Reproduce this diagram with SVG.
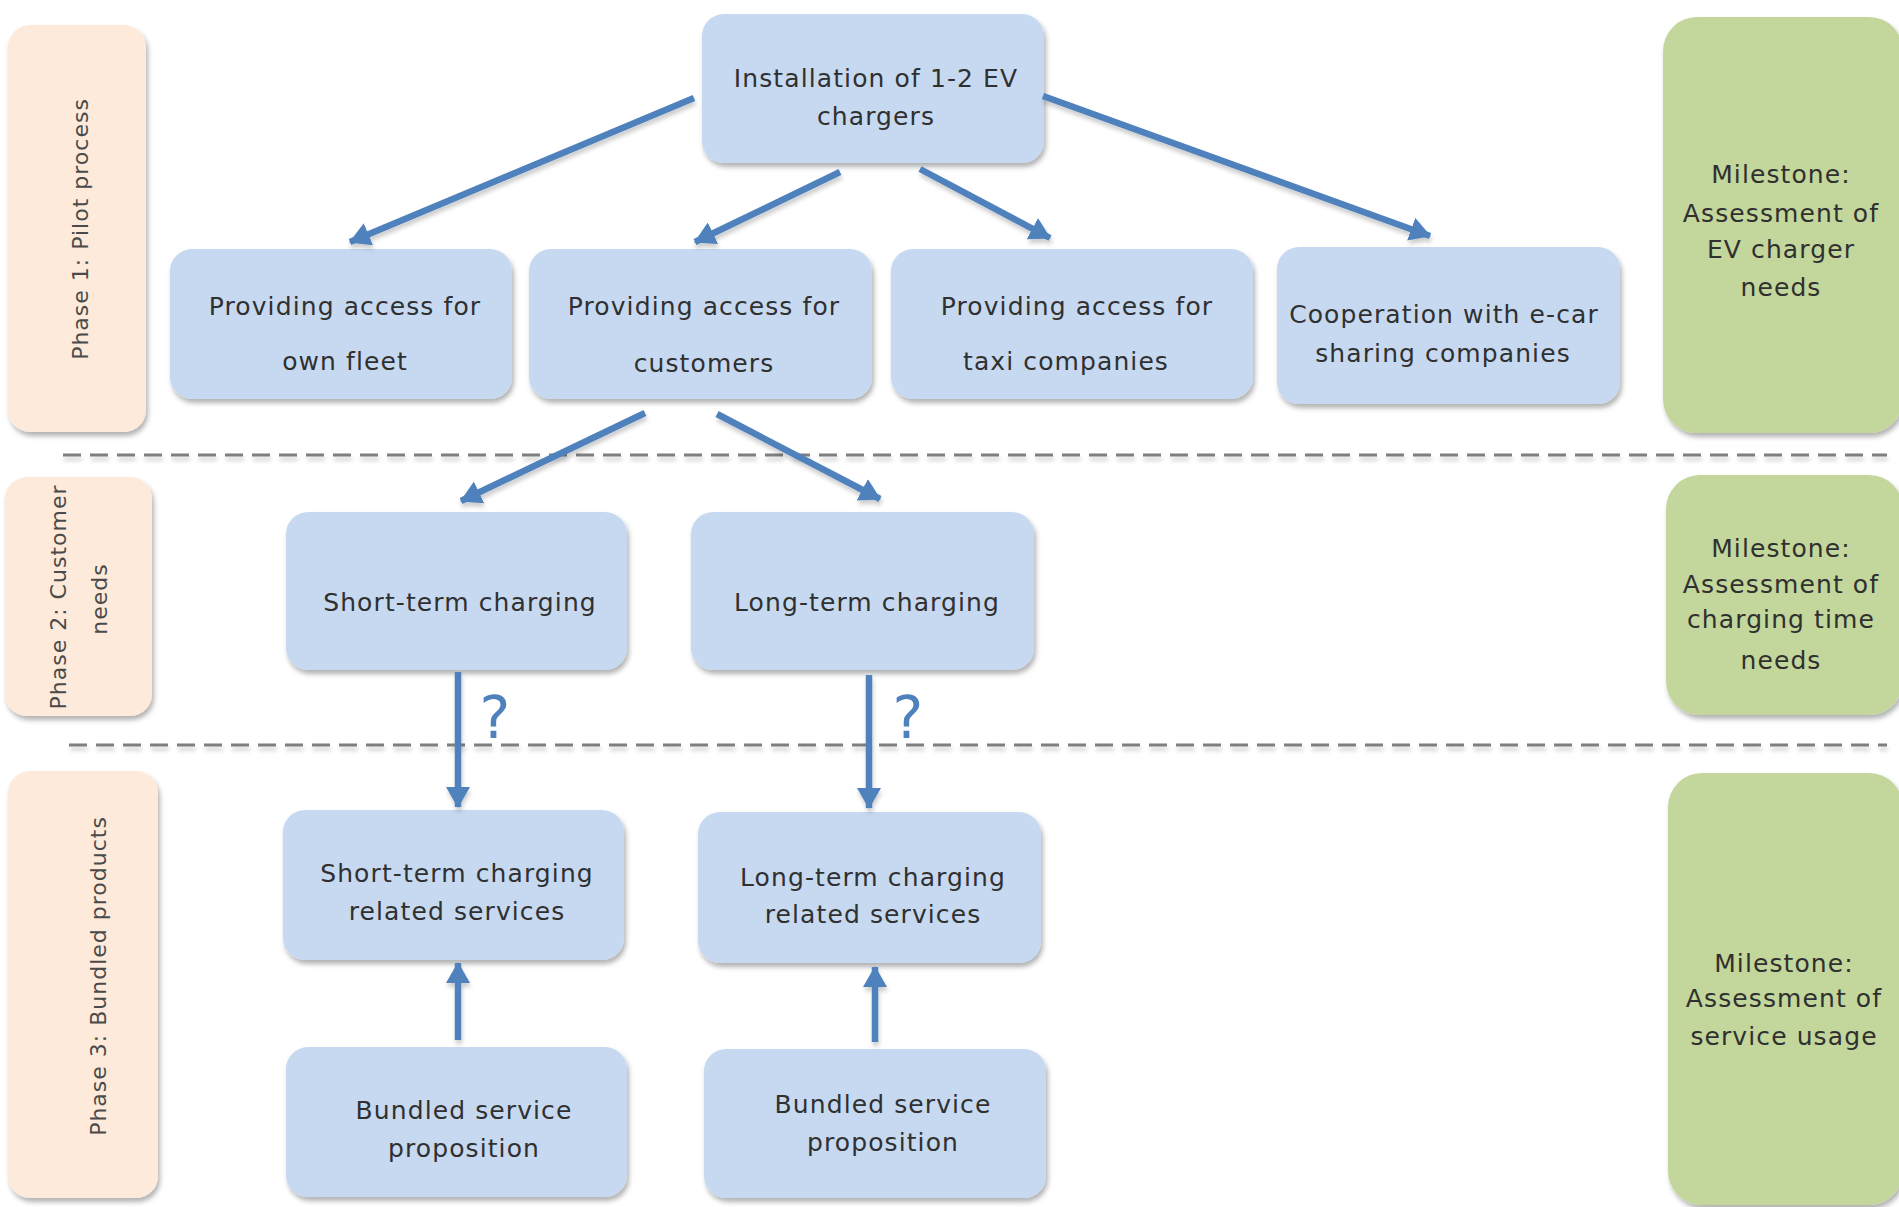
<svg xmlns="http://www.w3.org/2000/svg" width="1899" height="1207" viewBox="0 0 1899 1207">
<style>
.node{fill:#C6D9F1;filter:url(#sh)}
.phase{fill:#FDEADA;filter:url(#sh)}
.mile{fill:#C3D69B;filter:url(#sh)}
.t{font-family:"DejaVu Sans",Verdana,sans-serif;font-size:25px;letter-spacing:1.1px;fill:#303030;text-anchor:middle}
.pt{font-family:"DejaVu Sans",Verdana,sans-serif;font-size:22px;letter-spacing:1px;fill:#4a4a4a;text-anchor:middle}
.q{font-family:"DejaVu Sans",Verdana,sans-serif;font-size:58px;fill:#4F81BD;text-anchor:middle}
.arr{stroke:#4F81BD;stroke-width:6.5;fill:none;marker-end:url(#ah);filter:url(#sh2)}
.dash{stroke:#7f7f7f;stroke-width:3;stroke-dasharray:18 9;fill:none;filter:url(#sh2)}
</style>
<defs>
<filter id="sh" x="-10%" y="-10%" width="125%" height="130%">
<feDropShadow dx="2" dy="4" stdDeviation="2.5" flood-color="#000" flood-opacity="0.3"/>
</filter>
<filter id="sh2" filterUnits="userSpaceOnUse" x="0" y="0" width="1899" height="1207">
<feDropShadow dx="1" dy="4" stdDeviation="2" flood-color="#000" flood-opacity="0.2"/>
</filter>
<marker id="ah" markerUnits="userSpaceOnUse" markerWidth="22" markerHeight="24" refX="20" refY="12" orient="auto">
<path d="M0,0 L21,12 L0,24 z" fill="#4F81BD"/>
</marker>
</defs>
<rect width="1899" height="1207" fill="#ffffff"/>

<g id="separators">
<line class="dash" x1="63" y1="455" x2="1887" y2="455"/>
<line class="dash" x1="69" y1="745" x2="1887" y2="745"/>
</g>

<g id="phase1"><rect class="phase" x="8" y="25" width="138" height="407" rx="22"/>
<text class="pt" transform="translate(88,229) rotate(-90)">Phase 1: Pilot process</text></g>
<g id="phase2"><rect class="phase" x="5" y="477" width="147" height="239" rx="22"/>
<text class="pt" transform="translate(66,597) rotate(-90)">Phase 2: Customer</text>
<text class="pt" transform="translate(107,599) rotate(-90)">needs</text></g>
<g id="phase3"><rect class="phase" x="8" y="771" width="150" height="427" rx="22"/>
<text class="pt" transform="translate(106,976) rotate(-90)">Phase 3: Bundled products</text></g>

<g id="milestone1"><rect class="mile" x="1663" y="17" width="240" height="416" rx="34"/>
<text class="t" x="1781" y="183">Milestone:</text>
<text class="t" x="1781" y="222">Assessment of</text>
<text class="t" x="1781" y="258">EV charger</text>
<text class="t" x="1781" y="296">needs</text></g>
<g id="milestone2"><rect class="mile" x="1666" y="475" width="237" height="240" rx="34"/>
<text class="t" x="1781" y="557">Milestone:</text>
<text class="t" x="1781" y="593">Assessment of</text>
<text class="t" x="1781" y="628">charging time</text>
<text class="t" x="1781" y="669">needs</text></g>
<g id="milestone3"><rect class="mile" x="1668" y="773" width="235" height="432" rx="34"/>
<text class="t" x="1784" y="972">Milestone:</text>
<text class="t" x="1784" y="1007">Assessment of</text>
<text class="t" x="1784" y="1045">service usage</text></g>

<g id="n_install"><rect class="node" x="702" y="14" width="342" height="149" rx="22"/>
<text class="t" x="876" y="87">Installation of 1-2 EV</text>
<text class="t" x="876" y="125">chargers</text></g>
<g id="n_fleet"><rect class="node" x="170" y="249" width="342" height="150" rx="22"/>
<text class="t" x="345" y="315">Providing access for</text>
<text class="t" x="345" y="370">own fleet</text></g>
<g id="n_customers"><rect class="node" x="529" y="249" width="343" height="150" rx="22"/>
<text class="t" x="704" y="315">Providing access for</text>
<text class="t" x="704" y="372">customers</text></g>
<g id="n_taxi"><rect class="node" x="891" y="249" width="362" height="150" rx="22"/>
<text class="t" x="1077" y="315">Providing access for</text>
<text class="t" x="1066" y="370">taxi companies</text></g>
<g id="n_ecar"><rect class="node" x="1277" y="247" width="343" height="157" rx="22"/>
<text class="t" x="1444" y="323">Cooperation with e-car</text>
<text class="t" x="1443" y="362">sharing companies</text></g>
<g id="n_short"><rect class="node" x="286" y="512" width="341" height="158" rx="22"/>
<text class="t" x="460" y="611">Short-term charging</text></g>
<g id="n_long"><rect class="node" x="691" y="512" width="343" height="158" rx="22"/>
<text class="t" x="867" y="611">Long-term charging</text></g>
<g id="n_shortrel"><rect class="node" x="283" y="810" width="341" height="150" rx="22"/>
<text class="t" x="457" y="882">Short-term charging</text>
<text class="t" x="457" y="920">related services</text></g>
<g id="n_longrel"><rect class="node" x="698" y="812" width="343" height="151" rx="22"/>
<text class="t" x="873" y="886">Long-term charging</text>
<text class="t" x="873" y="923">related services</text></g>
<g id="n_bundled1"><rect class="node" x="286" y="1047" width="341" height="150" rx="22"/>
<text class="t" x="464" y="1119">Bundled service</text>
<text class="t" x="464" y="1157">proposition</text></g>
<g id="n_bundled2"><rect class="node" x="704" y="1049" width="342" height="149" rx="22"/>
<text class="t" x="883" y="1113">Bundled service</text>
<text class="t" x="883" y="1151">proposition</text></g>

<g id="connectors">
<line class="arr" x1="694" y1="98" x2="350" y2="242"/>
<line class="arr" x1="840" y1="172" x2="695" y2="242"/>
<line class="arr" x1="920" y1="169" x2="1050" y2="238"/>
<line class="arr" x1="1043" y1="96" x2="1430" y2="236"/>
<line class="arr" x1="645" y1="413" x2="461" y2="501"/>
<line class="arr" x1="717" y1="414" x2="880" y2="499"/>
<line class="arr" x1="458" y1="672" x2="458" y2="807"/>
<line class="arr" x1="869" y1="675" x2="869" y2="808"/>
<line class="arr" x1="458" y1="1040" x2="458" y2="963"/>
<line class="arr" x1="875" y1="1042" x2="875" y2="967"/>
<text class="q" x="495" y="738">?</text>
<text class="q" x="908" y="738">?</text>
</g>
</svg>
